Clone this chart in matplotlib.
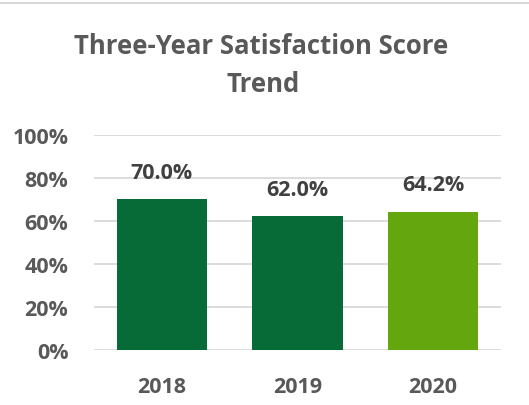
import matplotlib.pyplot as plt
from matplotlib.ticker import PercentFormatter

years = ["2018", "2019", "2020"]
scores = [70.0, 62.0, 64.2]
bar_colors = ["#076B38", "#076B38", "#63A60D"]
yticks = [0, 20, 40, 60, 80, 100]

plt.rcParams["font.family"] = ["Open Sans", "DejaVu Sans"]

fig = plt.figure(figsize=(5.29, 4.06), dpi=100)
ax = fig.add_axes([94 / 529, 1 - 350.7 / 406, 407 / 529, 215 / 406])

x = range(len(years))
bars = ax.bar(x, scores, width=0.667, color=bar_colors, zorder=3)

for b, v in zip(bars, scores):
    ax.annotate("{:.1f}%".format(v), (b.get_x() + b.get_width() / 2, v),
                xytext=(0, 19.5), textcoords="offset points", ha="center",
                va="center", fontsize=15.5, fontweight="bold", color="#404040")

ax.set_xlim(-0.5, 2.5)
ax.set_ylim(0, 100)
ax.set_yticks(yticks)
ax.yaxis.set_major_formatter(PercentFormatter(decimals=0))
ax.set_xticks(list(x))
ax.set_xticklabels(years)
ax.tick_params(axis="both", length=0, labelsize=15.5, labelcolor="#595959")
ax.tick_params(axis="x", pad=19)
ax.tick_params(axis="y", pad=18.5)
for lab in ax.get_xticklabels() + ax.get_yticklabels():
    lab.set_fontweight("bold")

ax.grid(axis="y", color="#D9D9D9", linewidth=1.3, zorder=0)
for s in ax.spines.values():
    s.set_visible(False)

fig.text(0.494, 1 - 46 / 406, "Three-Year Satisfaction Score", ha="center", va="center",
         fontsize=18.5, fontweight="bold", color="#595959")
fig.text(0.497, 1 - 85 / 406, "Trend", ha="center", va="center",
         fontsize=18.5, fontweight="bold", color="#595959")

# light border line along the top edge
fig.add_artist(plt.Line2D([0, 1], [1 - 3.5 / 406] * 2, color="#D9D9D9", linewidth=1.5))

fig.savefig("out.png", dpi=100)
